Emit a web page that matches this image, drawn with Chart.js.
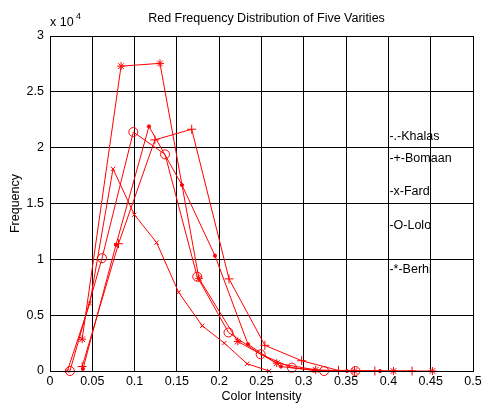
<!DOCTYPE html>
<html>
<head>
<meta charset="utf-8">
<script src="https://cdn.jsdelivr.net/npm/chart.js@4.4.0/dist/chart.umd.min.js"></script>
<style>
html,body{margin:0;padding:0;background:#fff;}
#wrap{width:486px;height:404px;position:relative;}
</style>
</head>
<body>
<div id="wrap"><canvas id="c" width="486" height="404"></canvas></div>
<script>
// ---- data ----
const khalasX = [0.039, 0.078, 0.117, 0.156, 0.195, 0.234, 0.273, 0.312, 0.351, 0.390];
const khalasY = [200, 11300, 21900, 16650, 10330, 2400, 400, 50, 0, 0];
const bomaanX = [0.038, 0.081, 0.124, 0.1675, 0.2116, 0.254, 0.2975, 0.341, 0.384, 0.428];
const bomaanY = [400, 11400, 20700, 21650, 8250, 2300, 920, 50, 0, 0];
const fardX = [0.0205, 0.047, 0.0745, 0.0997, 0.126, 0.152, 0.180, 0.206, 0.233, 0.259];
const fardY = [0, 6050, 18100, 14000, 11500, 7050, 4050, 2500, 650, 0];
const loloX = [0.0236, 0.0615, 0.0985, 0.136, 0.174, 0.211, 0.249, 0.286, 0.324, 0.361];
const loloY = [0, 10100, 21400, 19400, 8450, 3450, 1500, 300, 0, 0];
const berhiX = [0.038, 0.084, 0.130, 0.176, 0.222, 0.268, 0.314, 0.360, 0.406, 0.452];
const berhiY = [2850, 27300, 27550, 8300, 2650, 700, 100, 0, 0, 0];

const seriesNames = ['Khalas', 'Bomaan', 'Fard', 'Lolo', 'Berhi'];
const legendTexts = ['-.-Khalas', '-+-Bomaan', '-x-Fard', '-O-Lolo', '-*-Berhi'];
const legendX = 0.4;
const legendY = [21000, 19050, 16100, 13050, 9050];

const titleText = 'Red Frequency Distribution of Five Varities';
const xTitle = 'Color Intensity';
const yTitle = 'Frequency';
const xMin = 0, xMax = 0.5, xStep = 0.05;
const yMin = 0, yMax = 30000, yStep = 5000;
const yScaleFactor = 10000;

function pts(xs, ys){ return xs.map((x,i)=>({x:x, y:ys[i]})); }

const RED = '#ff0000';
const FONT = '"Liberation Sans", Arial, sans-serif';
const FS = 12.5;

const styles = [
  {pointStyle:'circle', radius:1.6, fill:true},
  {pointStyle:'cross', radius:4.5, fill:false},
  {pointStyle:'crossRot', radius:3, fill:false},
  {pointStyle:'circle', radius:4.5, fill:false},
  {pointStyle:'star', radius:4, fill:false}
];
const xsAll = [khalasX, bomaanX, fardX, loloX, berhiX];
const ysAll = [khalasY, bomaanY, fardY, loloY, berhiY];

const datasets = seriesNames.map((n,i)=>({
  label: n,
  data: pts(xsAll[i], ysAll[i]),
  showLine: true,
  borderColor: RED,
  borderWidth: 1,
  backgroundColor: styles[i].fill ? RED : 'rgba(0,0,0,0)',
  pointBorderColor: RED,
  pointBackgroundColor: styles[i].fill ? RED : 'rgba(0,0,0,0)',
  pointBorderWidth: 1,
  pointStyle: styles[i].pointStyle,
  pointRadius: styles[i].radius,
  pointHoverRadius: styles[i].radius,
  tension: 0,
  clip: false
}));

const overlay = {
  id: 'overlay',
  afterDraw(chart){
    const ctx = chart.ctx;
    const a = chart.chartArea;
    const xs = chart.scales.x, ys = chart.scales.y;
    ctx.save();
    ctx.strokeStyle = '#000';
    ctx.lineWidth = 1;
    ctx.strokeRect(Math.round(a.left)+0.5, Math.round(a.top)+0.5, Math.round(a.right-a.left), Math.round(a.bottom-a.top));
    ctx.fillStyle = '#000';
    ctx.font = FS + 'px ' + FONT;
    ctx.textAlign = 'center';
    ctx.textBaseline = 'middle';
    ctx.fillText(titleText, (a.left+a.right)/2 + 5, 19);
    ctx.fillText(xTitle, (a.left+a.right)/2, 397);
    ctx.save();
    ctx.translate(16, (a.top+a.bottom)/2);
    ctx.rotate(-Math.PI/2);
    ctx.fillText(yTitle, 0, 0);
    ctx.restore();
    ctx.textAlign = 'left';
    ctx.fillText('x 10', 50, 23);
    ctx.font = '9px ' + FONT;
    ctx.fillText('4', 76, 17);
    ctx.font = FS + 'px ' + FONT;
    legendTexts.forEach((t,i)=>{
      ctx.fillText(t, xs.getPixelForValue(legendX) + 1, ys.getPixelForValue(legendY[i]));
    });
    ctx.restore();
  }
};

new Chart(document.getElementById('c'), {
  type: 'scatter',
  data: { datasets },
  options: {
    responsive: false,
    animation: false,
    devicePixelRatio: 1,
    layout: { padding: { left: 0, right: 13, top: 36, bottom: 0 } },
    plugins: { legend: { display: false }, tooltip: { enabled: false }, title: { display: false } },
    scales: {
      x: {
        type: 'linear', min: xMin, max: xMax,
        afterFit(s){ s.height = 33; },
        ticks: { stepSize: xStep, color: '#000', font: { family: FONT, size: FS }, padding: 3,
          callback: v => String(Math.round(v*100)/100), maxRotation: 0, autoSkip: false },
        grid: { color: '#000', lineWidth: 1, drawTicks: false },
        border: { display: true, color: '#000' }
      },
      y: {
        type: 'linear', min: yMin, max: yMax,
        afterFit(s){ s.width = 50; },
        ticks: { stepSize: yStep, color: '#000', font: { family: FONT, size: FS }, padding: 6,
          callback: v => String(v / yScaleFactor), autoSkip: false },
        grid: { color: '#000', lineWidth: 1, drawTicks: false },
        border: { display: true, color: '#000' }
      }
    }
  },
  plugins: [overlay]
});
</script>
</body>
</html>
